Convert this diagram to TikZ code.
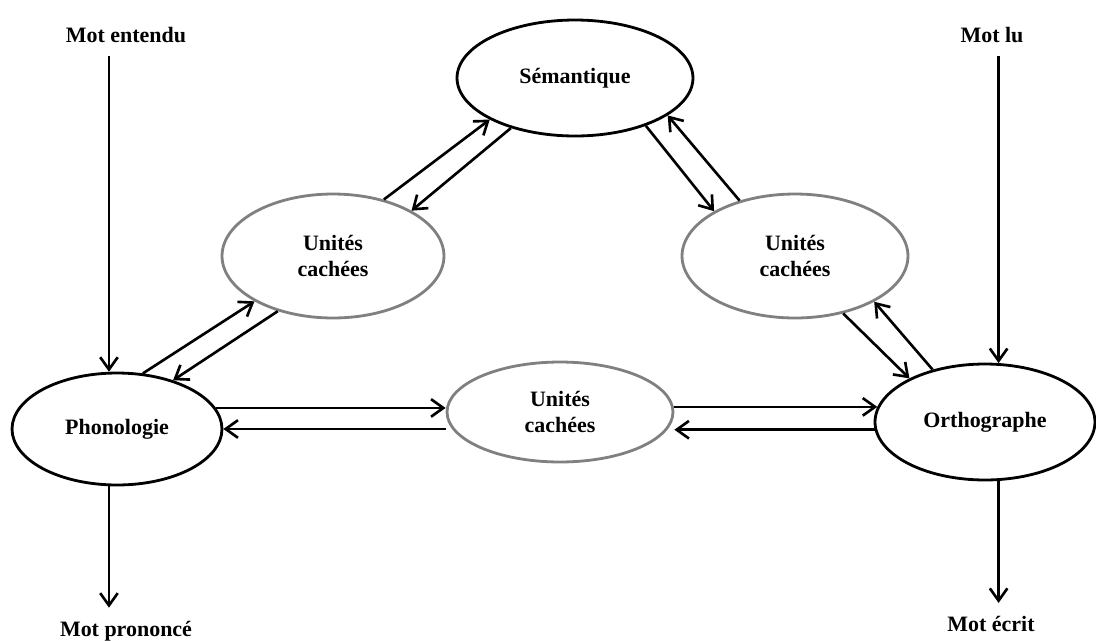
\documentclass[tikz,border=0pt]{standalone}
\usepackage{fontspec}
\setmainfont{Liberation Serif}
\usetikzlibrary{shapes.geometric,arrows.meta}

\begin{document}
\begin{tikzpicture}[x=0.02cm,y=-0.02cm,
  every node/.style={font=\fontsize{12.5}{15}\selectfont\bfseries},
  etat/.style={ellipse,draw,line width=1.6pt,inner sep=0pt},
  cache/.style={etat,draw=black!50,align=center},
  mot/.style={inner sep=7.4pt},
  arr/.style={line width=1.5pt,-{Straight Barb[length=7pt,width=10pt]}}]
 \useasboundingbox (0,0) rectangle (1096,640);
 \node[etat,minimum width=4.72cm,minimum height=2.32cm] (sem) at (575,78) {Sémantique};
 \node[etat,minimum width=4.2cm,minimum height=2.24cm] (phon) at (117,429) {Phonologie};
 \node[etat,minimum width=4.4cm,minimum height=2.32cm] (orth) at (985,422) {Orthographe};
 \node[cache,minimum width=4.44cm,minimum height=2.48cm] (hP) at (333,256) {Unités\\cachées};
 \node[cache,minimum width=4.52cm,minimum height=2.48cm] (hO) at (795,256) {Unités\\cachées};
 \node[cache,minimum width=4.52cm,minimum height=2cm] (hB) at (560,412) {Unités\\cachées};
 \node[mot] (entendu) at (126,35) {Mot entendu};
 \node[mot] (lu) at (992,35) {Mot lu};
 \node[mot] (prononce) at (126,631) {Mot prononcé};
 \node[mot] (ecrit) at (991,624) {Mot écrit};
 %
 \draw[arr] (entendu.south -| phon.98) -- (phon.98);
 \draw[arr] (phon.262) -- (phon.262 |- prononce.north);
 \draw[arr] (lu.south -| orth.77) -- (orth.77);
 \draw[arr] (orth.283) -- (orth.283 |- ecrit.north);
 %
 \draw[arr] (phon.65) -- (hP.210);
 \draw[arr] (hP.225) -- (phon.41);
 \draw[arr] (hP.48) -- (sem.206);
 \draw[arr] (sem.218) -- (hP.30);
 \draw[arr] (sem.326) -- (hO.151);
 \draw[arr] (hO.135) -- (sem.338);
 \draw[arr] (hO.310) -- (orth.150);
 \draw[arr] (orth.135) -- (hO.330);
 %
 \draw[arr] (phon.12) -- (phon.12 -| hB.west);
 \draw[arr] (phon.east -| hB.west) -- (phon.east);
 \draw[arr] (orth.172 -| hB.east) -- (orth.172);
 \draw[arr] (orth.184) -- (orth.184 -| hB.east);
\end{tikzpicture}
\end{document}
